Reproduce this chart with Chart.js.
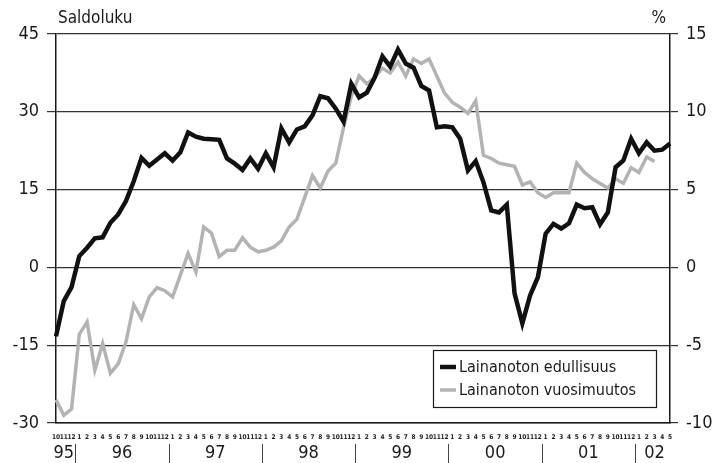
<!DOCTYPE html>
<html>
<head>
<meta charset="utf-8">
<script src="https://cdn.jsdelivr.net/npm/chart.js"></script>
<style>
  html, body { margin: 0; padding: 0; background: #fff; }
  #wrap { width: 723px; height: 463px; }
</style>
</head>
<body>
<div id="wrap"><canvas id="chart" width="723" height="463"></canvas></div>
<script>
// Kuukaudet 10/1995 - 5/2002
const months = [
    '10', '11', '12',
    '1', '2', '3', '4', '5', '6', '7', '8', '9', '10', '11', '12',
    '1', '2', '3', '4', '5', '6', '7', '8', '9', '10', '11', '12',
    '1', '2', '3', '4', '5', '6', '7', '8', '9', '10', '11', '12',
    '1', '2', '3', '4', '5', '6', '7', '8', '9', '10', '11', '12',
    '1', '2', '3', '4', '5', '6', '7', '8', '9', '10', '11', '12',
    '1', '2', '3', '4', '5', '6', '7', '8', '9', '10', '11', '12',
    '1', '2', '3', '4', '5'
];
const years = ['95', '96', '97', '98', '99', '00', '01', '02'];

// Lainanoton edullisuus, saldoluku (vasen asteikko)
const edullisuus = [
    -13.3, -6.5, -3.8,
    2.2, 3.8, 5.6, 5.8, 8.6, 10.2, 12.8, 16.6, 21.1, 19.6, 20.8, 22.0,
    20.6, 22.2, 26.0, 25.2, 24.8, 24.7, 24.6, 21.0, 20.0, 18.8, 21.0, 19.0,
    22.0, 19.3, 26.8, 24.1, 26.6, 27.2, 29.3, 33.0, 32.6, 30.6, 28.1, 35.4,
    32.8, 33.7, 36.6, 40.7, 38.7, 42.0, 39.3, 38.5, 35.0, 34.1, 27.0, 27.2,
    27.0, 24.8, 18.7, 20.5, 16.4, 11.0, 10.6, 12.1, -5.0, -10.8, -5.4, -1.9,
    6.5, 8.4, 7.5, 8.5, 12.1, 11.4, 11.6, 8.3, 10.6, 19.3, 20.6, 24.8,
    22.0, 24.1, 22.5, 22.7, 23.9
];

// Lainanoton vuosimuutos, % (oikea asteikko)
const vuosimuutos = [
    -8.5, -9.5, -9.1,
    -4.3, -3.5, -6.6, -4.9, -6.8, -6.2, -4.8, -2.4, -3.3, -1.9, -1.3, -1.5,
    -1.9, -0.5, 0.9, -0.3, 2.6, 2.2, 0.7, 1.1, 1.1, 1.9, 1.3, 1.0,
    1.1, 1.3, 1.7, 2.6, 3.1, 4.5, 5.9, 5.1, 6.2, 6.7, 9.0, 11.0,
    12.3, 11.8, 12.2, 12.8, 12.5, 13.2, 12.3, 13.4, 13.1, 13.4, 12.3, 11.2,
    10.6, 10.3, 9.9, 10.7, 7.2, 7.0, 6.7, 6.6, 6.5, 5.3, 5.5, 4.8,
    4.5, 4.8, 4.8, 4.8, 6.7, 6.1, 5.7, 5.4, 5.1, 5.7, 5.4, 6.4,
    6.1, 7.1, 6.8, null, null
];

const FONT = "'DejaVu Sans Condensed', 'Liberation Sans', sans-serif";
const INK = '#1a1a1a';

// vuosirivi x-akselin alle
const yearAxis = {
    id: 'yearAxis',
    afterDraw(chart) {
        const { ctx, chartArea } = chart;
        const x = chart.scales.x;
        const groups = [];
        months.forEach((m, i) => {
            if (i === 0 || m === '1') groups.push({ start: i, end: i });
            else groups[groups.length - 1].end = i;
        });
        ctx.save();
        ctx.fillStyle = INK;
        ctx.strokeStyle = '#444';
        ctx.lineWidth = 1;
        ctx.font = '18px ' + FONT;
        ctx.textAlign = 'center';
        ctx.textBaseline = 'middle';
        groups.forEach((g, k) => {
            const x0 = x.getPixelForValue(g.start);
            const x1 = x.getPixelForValue(g.end);
            ctx.fillText(years[k], (x0 + x1) / 2, chartArea.bottom + 30);
            if (k > 0) {
                const sx = Math.round((x0 + x.getPixelForValue(g.start - 1)) / 2) + 0.5;
                ctx.beginPath();
                ctx.moveTo(sx, chartArea.bottom + 21);
                ctx.lineTo(sx, chart.height);
                ctx.stroke();
            }
        });
        ctx.restore();
    }
};

// otsikot ja selite kuva-alueen sisällä
const labelsAndLegend = {
    id: 'labelsAndLegend',
    afterDraw(chart) {
        const { ctx, chartArea } = chart;
        ctx.save();
        ctx.fillStyle = INK;
        ctx.font = '17px ' + FONT;
        ctx.textBaseline = 'alphabetic';
        ctx.textAlign = 'left';
        ctx.fillText('Saldoluku', chartArea.left + 2, chartArea.top - 11);
        ctx.textAlign = 'right';
        ctx.fillText('%', chartArea.right - 4, chartArea.top - 11);

        const w = 223, h = 57;
        const bx = chartArea.right - 14 - w;
        const by = chartArea.bottom - 16 - h;
        ctx.fillStyle = '#fff';
        ctx.fillRect(bx, by, w, h);
        ctx.strokeStyle = INK;
        ctx.lineWidth = 1.2;
        ctx.strokeRect(bx + 0.5, by + 0.5, w, h);

        ctx.font = '16px ' + FONT;
        ctx.textAlign = 'left';
        ctx.textBaseline = 'middle';
        chart.data.datasets.forEach((ds, i) => {
            const ly = by + 17 + i * 23;
            ctx.strokeStyle = ds.borderColor;
            ctx.lineWidth = ds.borderWidth;
            ctx.beginPath();
            ctx.moveTo(bx + 7, ly);
            ctx.lineTo(bx + 23, ly);
            ctx.stroke();
            ctx.fillStyle = INK;
            ctx.fillText(ds.label, bx + 26, ly + 1);
        });
        ctx.restore();
    }
};

new Chart(document.getElementById('chart'), {
    type: 'line',
    data: {
        labels: months,
        datasets: [
            {
                label: 'Lainanoton edullisuus',
                data: edullisuus,
                yAxisID: 'y',
                borderColor: '#111',
                borderWidth: 4.5,
                pointRadius: 0,
                tension: 0
            },
            {
                label: 'Lainanoton vuosimuutos',
                data: vuosimuutos,
                yAxisID: 'y1',
                borderColor: '#b3b3b3',
                borderWidth: 3.5,
                pointRadius: 0,
                tension: 0
            }
        ]
    },
    options: {
        responsive: false,
        animation: false,
        layout: { padding: { top: 34, left: 0, right: 0, bottom: 0 } },
        plugins: {
            legend: { display: false },
            title: { display: false },
            tooltip: { enabled: false }
        },
        scales: {
            x: {
                type: 'category',
                offset: false,
                grid: { display: false, drawTicks: false },
                border: { display: true, color: INK, width: 1.5 },
                ticks: {
                    autoSkip: false,
                    maxRotation: 0,
                    minRotation: 0,
                    padding: 10,
                    color: INK,
                    font: { family: FONT, size: 6.5, weight: 'bold' }
                },
                afterFit: s => { s.height = 40; }
            },
            y: {
                position: 'left',
                min: -30,
                max: 45,
                ticks: {
                    stepSize: 15,
                    padding: 8,
                    color: INK,
                    font: { family: FONT, size: 18 }
                },
                grid: { color: '#333', lineWidth: 1.2, tickLength: 9 },
                border: { display: true, color: INK, width: 1.5 },
                afterFit: s => { s.width = 56; }
            },
            y1: {
                position: 'right',
                min: -10,
                max: 15,
                ticks: {
                    stepSize: 5,
                    padding: 8,
                    color: INK,
                    font: { family: FONT, size: 18 }
                },
                grid: { drawOnChartArea: false, color: '#333', lineWidth: 1.2, tickLength: 8 },
                border: { display: true, color: INK, width: 1.5 },
                afterFit: s => { s.width = 53; }
            }
        }
    },
    plugins: [yearAxis, labelsAndLegend]
});
</script>
</body>
</html>
